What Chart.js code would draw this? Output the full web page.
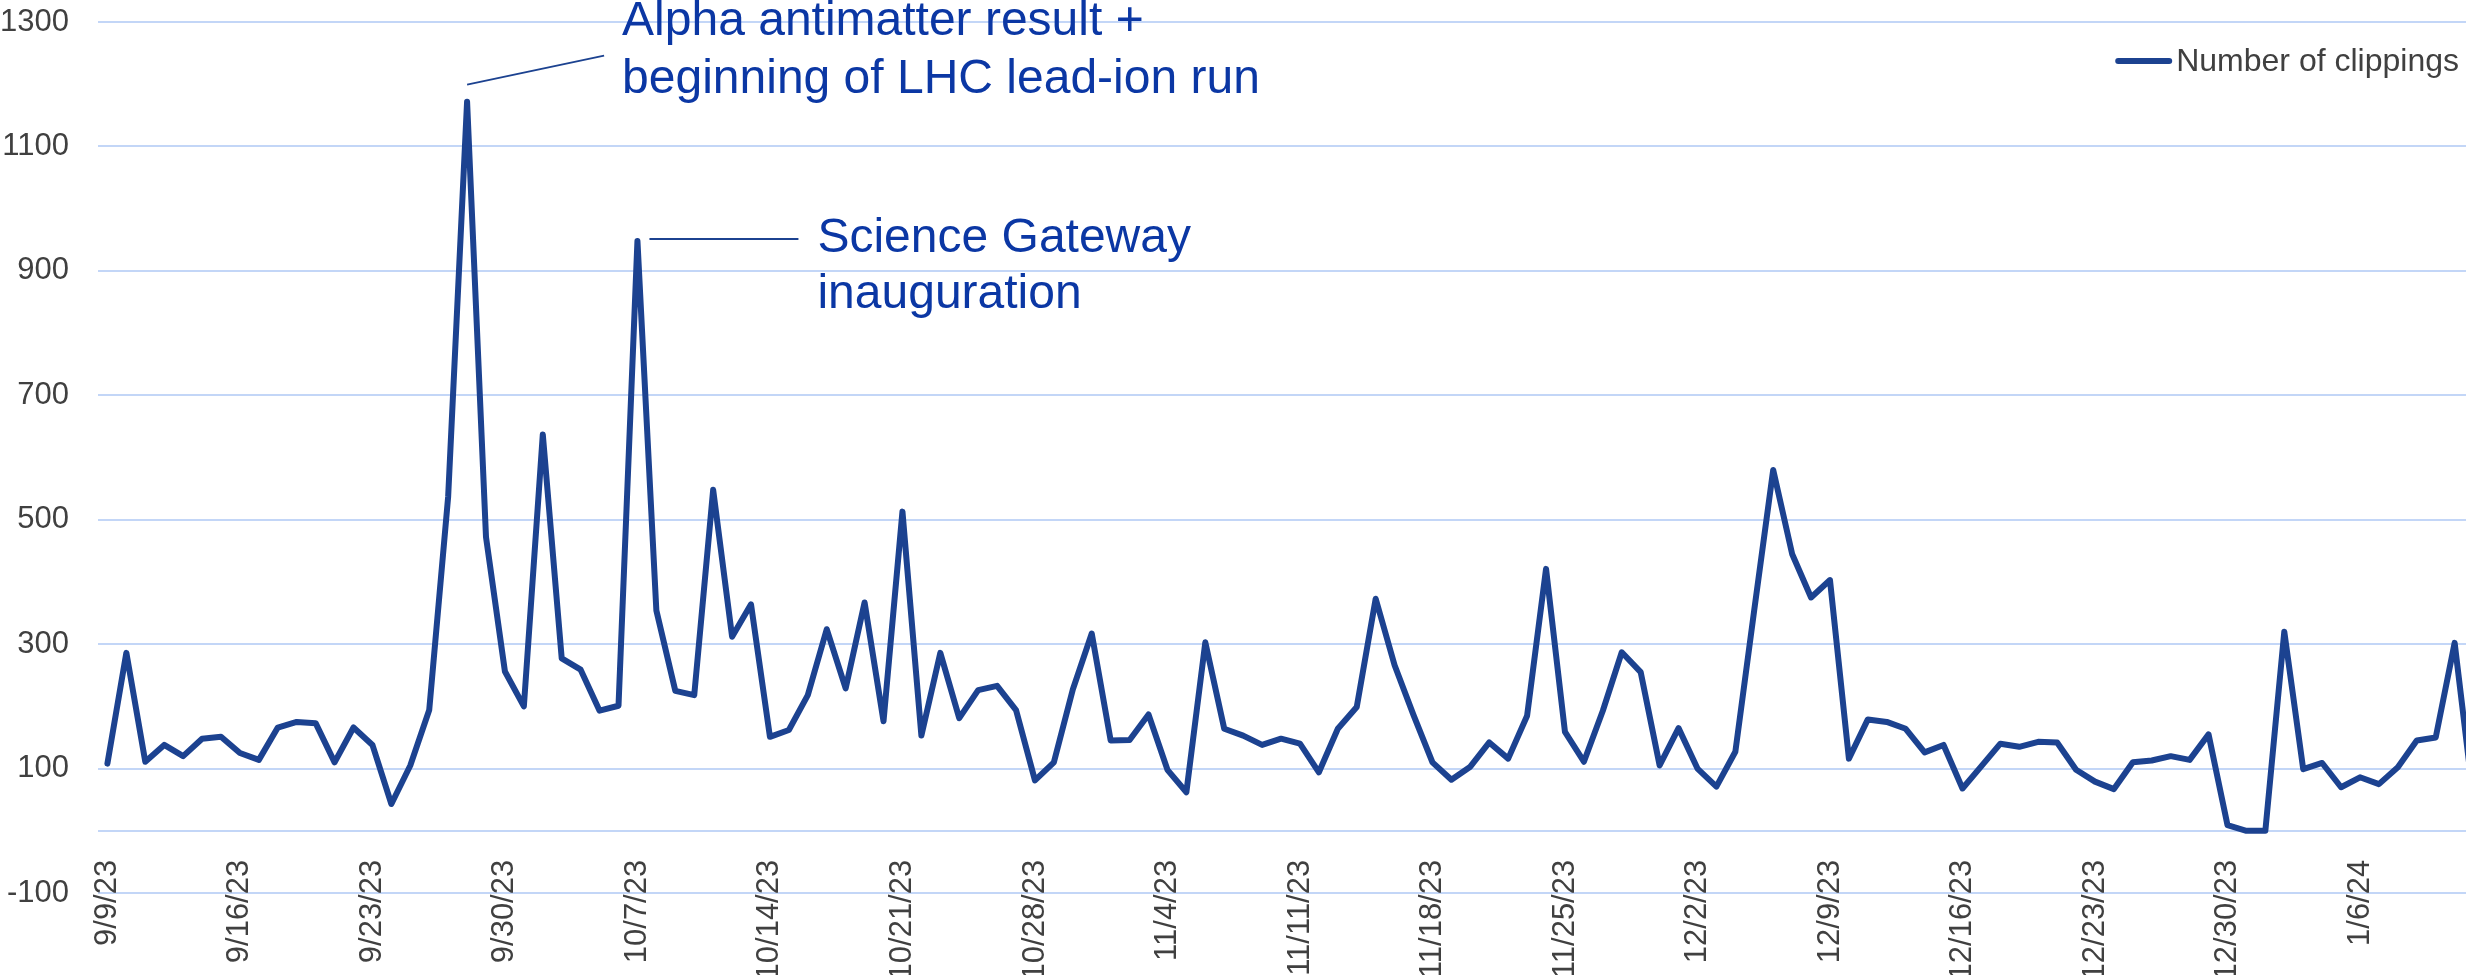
<!DOCTYPE html>
<html>
<head>
<meta charset="utf-8">
<title>Number of clippings</title>
<script src="https://cdn.jsdelivr.net/npm/chart.js@4.4.1/dist/chart.umd.min.js"></script>
<style>
  html, body { margin: 0; padding: 0; background: #fff; overflow: hidden; }
  #wrap { position: relative; width: 2466px; height: 975px; }
</style>
</head>
<body>
<div id="wrap"><canvas id="clippingsChart"></canvas></div>
<script>
// one point per day, 9/9/23 .. 1/12/24 (the last day runs off the right edge)
const dates = [
  '9/9/23', '9/10/23', '9/11/23', '9/12/23', '9/13/23', '9/14/23', '9/15/23', '9/16/23', '9/17/23', '9/18/23', '9/19/23',
  '9/20/23', '9/21/23', '9/22/23', '9/23/23', '9/24/23', '9/25/23', '9/26/23', '9/27/23', '9/28/23', '9/29/23', '9/30/23',
  '10/1/23', '10/2/23', '10/3/23', '10/4/23', '10/5/23', '10/6/23', '10/7/23', '10/8/23', '10/9/23', '10/10/23', '10/11/23',
  '10/12/23', '10/13/23', '10/14/23', '10/15/23', '10/16/23', '10/17/23', '10/18/23', '10/19/23', '10/20/23', '10/21/23',
  '10/22/23', '10/23/23', '10/24/23', '10/25/23', '10/26/23', '10/27/23', '10/28/23', '10/29/23', '10/30/23', '10/31/23',
  '11/1/23', '11/2/23', '11/3/23', '11/4/23', '11/5/23', '11/6/23', '11/7/23', '11/8/23', '11/9/23', '11/10/23', '11/11/23',
  '11/12/23', '11/13/23', '11/14/23', '11/15/23', '11/16/23', '11/17/23', '11/18/23', '11/19/23', '11/20/23', '11/21/23',
  '11/22/23', '11/23/23', '11/24/23', '11/25/23', '11/26/23', '11/27/23', '11/28/23', '11/29/23', '11/30/23',
  '12/1/23', '12/2/23', '12/3/23', '12/4/23', '12/5/23', '12/6/23', '12/7/23', '12/8/23', '12/9/23', '12/10/23', '12/11/23',
  '12/12/23', '12/13/23', '12/14/23', '12/15/23', '12/16/23', '12/17/23', '12/18/23', '12/19/23', '12/20/23', '12/21/23',
  '12/22/23', '12/23/23', '12/24/23', '12/25/23', '12/26/23', '12/27/23', '12/28/23', '12/29/23', '12/30/23', '12/31/23',
  '1/1/24', '1/2/24', '1/3/24', '1/4/24', '1/5/24', '1/6/24', '1/7/24', '1/8/24', '1/9/24', '1/10/24', '1/11/24', '1/12/24'
];

const clippings = [
  108, 286, 111, 138, 120, 148, 151, 125, 114, 166, 175, 173, 110, 166, 138, 43, 105, 194, 537, 1172, 472, 256,
  200, 637, 277, 259, 193, 201, 948, 354, 225, 218, 548, 312, 364, 151, 162, 218, 324, 229, 367, 176, 513,
  153, 286, 181, 226, 233, 194, 81, 110, 227, 317, 145, 146, 187, 98, 62, 303, 164, 153, 138, 148, 140,
  94, 164, 199, 373, 266, 186, 110, 82, 103, 142, 116, 185, 421, 159, 111, 193, 287, 255, 105, 165, 100,
  71, 127, 355, 580, 445, 375, 403, 116, 179, 175, 164, 126, 138, 68, 104, 140, 135, 143, 142, 98, 79,
  67, 110, 113, 120, 114, 155, 9, 0, 0, 320, 99, 109, 70, 86, 75, 102, 145, 150, 302, 49
];

const xTickLabels = ['9/9/23', '9/16/23', '9/23/23', '9/30/23', '10/7/23', '10/14/23', '10/21/23', '10/28/23', '11/4/23',
  '11/11/23', '11/18/23', '11/25/23', '12/2/23', '12/9/23', '12/16/23', '12/23/23', '12/30/23', '1/6/24'];
const yTicks = [-100, 100, 300, 500, 700, 900, 1100, 1300];

const seriesName = 'Number of clippings';
const alphaDay = '9/28/23';
const alphaNote = ['Alpha antimatter result +', 'beginning of LHC lead-ion run'];
const gatewayDay = '10/7/23';
const gatewayNote = ['Science Gateway', 'inauguration'];

const font = '"Liberation Sans", Arial, sans-serif';
const lineBlue = '#1c4290';
const noteBlue = '#0b37a4';
const gridBlue = '#c3d6f7';
const textGrey = '#404040';

// annotations and the legend sit inside the plot, so they are drawn by hand
const notesPlugin = {
  id: 'notes',
  afterDraw(chart) {
    const { ctx, chartArea, scales: { x, y } } = chart;
    ctx.save();

    const ai = dates.indexOf(alphaDay);
    const ax = x.getPixelForValue(ai);
    const ay = y.getPixelForValue(clippings[ai]);
    ctx.strokeStyle = lineBlue;
    ctx.lineWidth = 2;
    ctx.beginPath();
    ctx.moveTo(ax, ay - 17);
    ctx.lineTo(ax + 137, ay - 46);
    ctx.stroke();

    const gi = dates.indexOf(gatewayDay);
    const gx = x.getPixelForValue(gi);
    const gy = y.getPixelForValue(clippings[gi]);
    ctx.beginPath();
    ctx.moveTo(gx + 12, gy - 2);
    ctx.lineTo(gx + 161, gy - 2);
    ctx.stroke();

    ctx.fillStyle = noteBlue;
    ctx.font = '48px ' + font;
    ctx.textAlign = 'left';
    ctx.textBaseline = 'alphabetic';
    ctx.fillText(alphaNote[0], ax + 155, ay - 67);
    ctx.fillText(alphaNote[1], ax + 155, ay - 9);
    ctx.fillText(gatewayNote[0], gx + 180, gy + 11);
    ctx.fillText(gatewayNote[1], gx + 180, gy + 67);

    // legend, top right
    ctx.font = '32px ' + font;
    ctx.fillStyle = textGrey;
    ctx.textAlign = 'right';
    const right = chartArea.right - 7;
    const base = chartArea.top + 49;
    ctx.fillText(seriesName, right, base);
    const w = ctx.measureText(seriesName).width;
    ctx.strokeStyle = lineBlue;
    ctx.lineWidth = 6;
    ctx.lineCap = 'round';
    ctx.beginPath();
    ctx.moveTo(right - w - 58, base - 10);
    ctx.lineTo(right - w - 7, base - 10);
    ctx.stroke();

    ctx.restore();
  }
};

const points = clippings.map((v, i) => ({ x: i, y: v }));

const chart = new Chart(document.getElementById('clippingsChart'), {
  type: 'line',
  data: {
    datasets: [{
      label: seriesName,
      data: points,
      borderColor: lineBlue,
      backgroundColor: lineBlue,
      borderWidth: 6,
      borderJoinStyle: 'round',
      borderCapStyle: 'round',
      pointRadius: 0,
      tension: 0,
      fill: false
    }]
  },
  options: {
    responsive: true,
    maintainAspectRatio: false,
    animation: false,
    layout: { padding: { top: 22, bottom: 82, left: 0, right: 0 } },
    plugins: {
      legend: { display: false },
      tooltip: { enabled: false }
    },
    scales: {
      x: {
        type: 'linear',
        position: { y: 0 },
        min: -0.5,
        max: 124.6,
        grid: { display: false },
        border: { display: false },
        afterBuildTicks: (scale) => {
          scale.ticks = xTickLabels.map(d => ({ value: dates.indexOf(d) }));
        },
        ticks: {
          autoSkip: false,
          minRotation: 90,
          maxRotation: 90,
          padding: 21,
          color: textGrey,
          font: { family: font, size: 31 },
          callback: (v) => dates[v]
        }
      },
      y: {
        type: 'linear',
        min: -100,
        max: 1300,
        border: { display: false },
        grid: {
          color: gridBlue,
          lineWidth: 2,
          drawTicks: true,
          tickLength: 29,
          tickColor: 'rgba(0,0,0,0)'
        },
        afterBuildTicks: (scale) => {
          // zero line is drawn as a grid line without a label
          scale.ticks = [...yTicks, 0].sort((a, b) => a - b).map(v => ({ value: v }));
        },
        ticks: {
          padding: 0,
          color: textGrey,
          font: { family: font, size: 31 },
          callback: (v) => (v === 0 ? '' : String(v))
        }
      }
    }
  },
  plugins: [notesPlugin]
});
</script>
</body>
</html>
